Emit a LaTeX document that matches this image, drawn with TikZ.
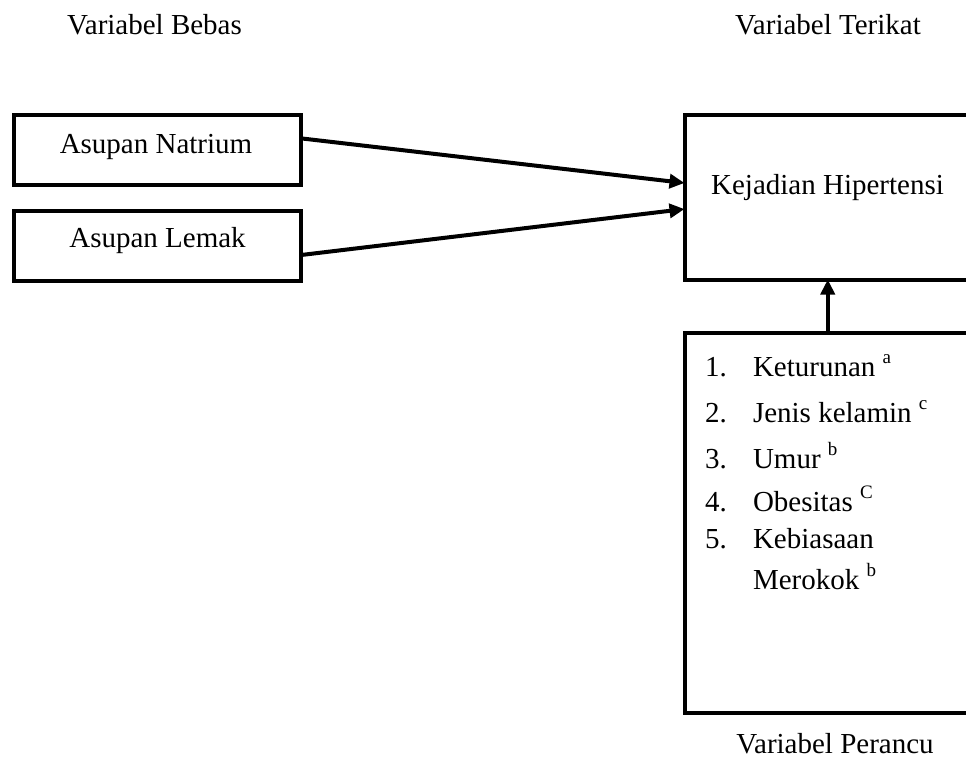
\documentclass[tikz,border=0pt]{standalone}
\usepackage{fontspec}
\setmainfont{Liberation Serif}
\usetikzlibrary{arrows.meta,calc}
\newcommand\supx[1]{\raisebox{0.44em}{\fontsize{19}{19}\selectfont #1}}
\begin{document}
\begin{tikzpicture}[x=1pt,y=-1pt,
  every node/.style={font=\fontsize{29}{35}\selectfont, inner sep=0pt, outer sep=0pt},
  boxx/.style={draw, line width=4pt, rectangle},
  lbl/.style={anchor=base},
  item/.style={anchor=base west},
  arr/.style={line width=4pt, -{Triangle[length=15pt,width=14pt]}}]
\useasboundingbox (0,0) rectangle (966,758);
\clip (0,0) rectangle (966,758);
% boxes
\node[boxx, minimum width=287pt, minimum height=70pt] (nat) at (157,149.5) {};
\node[boxx, minimum width=287pt, minimum height=70pt] (lem) at (157.5,245.5) {};
\node[boxx, minimum width=286.5pt, minimum height=165pt] (kej) at (827.75,197) {};
\node[boxx, minimum width=286.5pt, minimum height=380pt] (per) at (827.75,522.5) {};
% headings
\node[lbl] (hb) at (154.5,34) {Variabel Bebas};
\node[lbl] (ht) at (828,34) {Variabel Terikat};
\node[lbl] (hp) at (835,753) {Variabel Perancu};
% box texts
\node[lbl] (tn) at (156,153) {Asupan Natrium};
\node[lbl] (tl) at (157.5,247) {Asupan Lemak};
\node[lbl] (tk) at (827.5,194) {Kejadian Hipertensi};
% list
\node[item] (n1) at (705,376) {1.};
\node[item] (i1) at (753,376) {Keturunan \supx{a}};
\node[item] (n2) at (705,422) {2.};
\node[item] (i2) at (753,422) {Jenis kelamin \supx{c}};
\node[item] (n3) at (705,468) {3.};
\node[item] (i3) at (753,468) {Umur \supx{b}};
\node[item] (n4) at (705,511) {4.};
\node[item] (i4) at (753,511) {Obesitas \supx{C}};
\node[item] (n5) at (705,548) {5.};
\node[item] (i5) at (753,548) {Kebiasaan};
\node[item] (i6) at (753,589) {Merokok \supx{b}};
% arrows
\draw[arr] ($(nat.north east)!0.34!(nat.south east)$) -- ($(kej.north west)!0.415!(kej.south west)$);
\draw[arr] ($(lem.north east)!0.636!(lem.south east)$) -- ($(kej.north west)!0.573!(kej.south west)$);
\draw[arr] (per.north) -- (kej.south);
\end{tikzpicture}
\end{document}
